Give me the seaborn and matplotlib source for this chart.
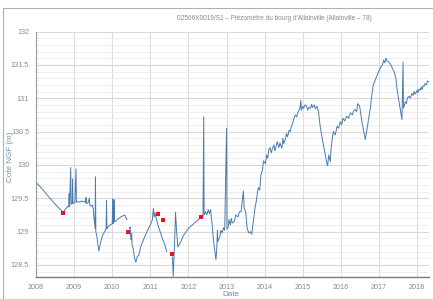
import numpy as np
import pandas as pd
import matplotlib
matplotlib.use("Agg")
import matplotlib.pyplot as plt
import seaborn as sns
from matplotlib.ticker import MultipleLocator, FixedLocator

title = "02566X0019/S1 – Piézomètre du bourg d'Allainville (Allainville – 78)"
ylabel = "Cote NGF (m)"
xlabel = "Date"
year_ticks = [2008, 2009, 2010, 2011, 2012, 2013, 2014, 2015, 2016, 2017, 2018]
level_ticks = [128.5, 129, 129.5, 130, 130.5, 131, 131.5, 132]

# segment 1 : 2008 -> mid 2010
seg1_t = [2008.00, 2008.10, 2008.25, 2008.40, 2008.55, 2008.72, 2008.76, 2008.80, 2008.83, 2008.86,
          2008.87, 2008.88, 2008.91, 2008.92, 2008.95, 2008.96, 2008.97, 2009.02, 2009.05, 2009.06,
          2009.10, 2009.15, 2009.20, 2009.25, 2009.30, 2009.31, 2009.32, 2009.36, 2009.40, 2009.41,
          2009.45, 2009.48, 2009.50, 2009.52, 2009.55, 2009.56, 2009.57, 2009.60, 2009.63, 2009.65,
          2009.68, 2009.72, 2009.76, 2009.80, 2009.84, 2009.85, 2009.86, 2009.90, 2009.95, 2010.00,
          2010.01, 2010.02, 2010.04, 2010.05, 2010.06, 2010.10, 2010.15, 2010.20, 2010.25, 2010.30,
          2010.33, 2010.36, 2010.39]
seg1_v = [129.74, 129.68, 129.58, 129.48, 129.38, 129.29, 129.33, 129.36, 129.38, 129.37,
          129.57, 129.38, 129.96, 129.41, 129.43, 129.79, 129.42, 129.44, 129.94, 129.44,
          129.45, 129.44, 129.46, 129.45, 129.44, 129.51, 129.42, 129.43, 129.50, 129.40,
          129.38, 129.40, 129.35, 129.22, 129.05, 129.82, 129.00, 128.92, 128.78, 128.71,
          128.80, 128.90, 128.96, 129.00, 129.05, 129.47, 129.04, 129.08, 129.10, 129.12,
          129.49, 129.12, 129.14, 129.48, 129.15, 129.16, 129.19, 129.21, 129.23, 129.24,
          129.25, 129.21, 129.18]

# segment 2 : mid 2010 -> mid 2011
seg2_t = [2010.45, 2010.47, 2010.49, 2010.51, 2010.52, 2010.55, 2010.58, 2010.62, 2010.65, 2010.70,
          2010.75, 2010.80, 2010.85, 2010.90, 2010.95, 2011.00, 2011.03, 2011.05, 2011.08, 2011.10,
          2011.12, 2011.20, 2011.30, 2011.38, 2011.43]
seg2_v = [129.05, 129.07, 128.88, 128.97, 128.80, 128.75, 128.62, 128.54, 128.62, 128.65,
          128.78, 128.85, 128.92, 128.98, 129.05, 129.10, 129.15, 129.17, 129.35, 129.22,
          129.28, 129.10, 128.92, 128.80, 128.70]

# segment 3 : 2011.6 -> 2018.3
seg3_t = [2011.58, 2011.60, 2011.64, 2011.66, 2011.69, 2011.72, 2011.75, 2011.80, 2011.85, 2011.90,
          2012.00, 2012.10, 2012.20, 2012.30, 2012.38, 2012.40, 2012.41, 2012.45, 2012.48, 2012.52,
          2012.55, 2012.58, 2012.60, 2012.63, 2012.66, 2012.69, 2012.72, 2012.74, 2012.76, 2012.77,
          2012.82, 2012.85, 2012.88, 2012.92, 2012.95, 2013.00, 2013.01, 2013.05, 2013.06, 2013.10,
          2013.12, 2013.15, 2013.20, 2013.24, 2013.30, 2013.34, 2013.38, 2013.44, 2013.46, 2013.50,
          2013.54, 2013.58, 2013.62, 2013.66, 2013.70, 2013.75, 2013.78, 2013.80, 2013.83, 2013.87,
          2013.90, 2013.94, 2013.97, 2014.02, 2014.05, 2014.08, 2014.10, 2014.14, 2014.17, 2014.20,
          2014.24, 2014.27, 2014.30, 2014.33, 2014.37, 2014.40, 2014.45, 2014.48, 2014.50, 2014.54,
          2014.57, 2014.60, 2014.64, 2014.67, 2014.70, 2014.73, 2014.77, 2014.80, 2014.84, 2014.88,
          2014.92, 2014.95, 2014.96, 2015.00, 2015.02, 2015.06, 2015.10, 2015.13, 2015.15, 2015.20,
          2015.23, 2015.25, 2015.30, 2015.33, 2015.37, 2015.41, 2015.45, 2015.52, 2015.58, 2015.62,
          2015.65, 2015.68, 2015.72, 2015.75, 2015.78, 2015.80, 2015.85, 2015.90, 2015.94, 2015.98,
          2016.02, 2016.05, 2016.10, 2016.15, 2016.20, 2016.25, 2016.30, 2016.34, 2016.37, 2016.41,
          2016.44, 2016.49, 2016.55, 2016.60, 2016.64, 2016.70, 2016.77, 2016.81, 2016.85, 2016.92,
          2016.98, 2017.05, 2017.09, 2017.12, 2017.15, 2017.18, 2017.21, 2017.24, 2017.29, 2017.35,
          2017.40, 2017.44, 2017.48, 2017.55, 2017.60, 2017.63, 2017.64, 2017.69, 2017.72, 2017.74,
          2017.78, 2017.82, 2017.86, 2017.89, 2017.92, 2017.95, 2018.00, 2018.02, 2018.05, 2018.08,
          2018.11, 2018.13, 2018.16, 2018.18, 2018.21, 2018.24, 2018.27, 2018.30]
seg3_v = [128.62, 128.33, 128.90, 129.29, 129.00, 128.77, 128.80, 128.85, 128.92, 128.97,
          129.05, 129.10, 129.15, 129.20, 129.23, 130.72, 129.25, 129.30, 129.25, 129.33,
          129.27, 129.33, 129.22, 129.05, 128.85, 128.72, 128.58, 128.72, 129.02, 128.85,
          128.92, 129.02, 128.98, 129.06, 129.02, 130.55, 129.04, 129.08, 129.18, 129.10,
          129.20, 129.13, 129.15, 129.25, 129.22, 129.30, 129.30, 129.61, 129.35, 129.30,
          129.05, 128.98, 129.00, 128.96, 129.15, 129.37, 129.46, 129.55, 129.66, 129.62,
          129.85, 129.92, 130.06, 130.02, 130.15, 130.10, 130.22, 130.26, 130.18, 130.24,
          130.30, 130.21, 130.28, 130.35, 130.26, 130.33, 130.25, 130.40, 130.32, 130.38,
          130.47, 130.42, 130.52, 130.50, 130.58, 130.62, 130.70, 130.75, 130.72, 130.80,
          130.84, 130.97, 130.82, 130.88, 130.85, 130.90, 130.88, 130.82, 130.86, 130.85,
          130.91, 130.86, 130.90, 130.84, 130.88, 130.80, 130.60, 130.36, 130.18, 130.05,
          129.99, 130.15, 130.05, 130.30, 130.42, 130.50, 130.45, 130.58, 130.55, 130.65,
          130.60, 130.70, 130.66, 130.73, 130.70, 130.78, 130.75, 130.82, 130.83, 130.80,
          130.92, 130.88, 130.65, 130.50, 130.38, 130.60, 130.85, 131.05, 131.20, 131.30,
          131.39, 131.47, 131.50, 131.57, 131.53, 131.60, 131.56, 131.55, 131.52, 131.45,
          131.39, 131.30, 131.10, 130.85, 130.68, 131.54, 130.85, 130.95, 130.92, 131.00,
          131.03, 131.00, 131.07, 131.04, 131.10, 131.06, 131.12, 131.08, 131.14, 131.12,
          131.17, 131.13, 131.19, 131.18, 131.22, 131.20, 131.26, 131.25]

# manual measurements (red squares)
manual_t = [2008.72, 2010.41, 2011.21, 2011.32, 2011.57, 2012.34]
manual_v = [129.28, 129.00, 129.27, 129.18, 128.66, 129.22]

df = pd.concat([
    pd.DataFrame({"date": seg1_t, "level": seg1_v, "seg": 1}),
    pd.DataFrame({"date": seg2_t, "level": seg2_v, "seg": 2}),
    pd.DataFrame({"date": seg3_t, "level": seg3_v, "seg": 3}),
], ignore_index=True)
dm = pd.DataFrame({"date": manual_t, "level": manual_v})

sns.set_theme(style="white")
plt.rcParams['font.family'] = ['Liberation Sans Narrow', 'Liberation Sans', 'DejaVu Sans']

fig = plt.figure(figsize=(4.33, 2.99), dpi=100)
ax = fig.add_axes([36/433, 1-277/299, (429-36)/433, (277-31.5)/299])

grey_txt = "#8a8a8a"
blue_lbl = "#6f8fb0"

sns.lineplot(data=df, x="date", y="level", units="seg", estimator=None,
             color="#4a7bab", linewidth=0.7, ax=ax, legend=False)
sns.scatterplot(data=dm, x="date", y="level", color="#e8141a", marker="s",
                s=12, linewidth=0, ax=ax, zorder=5, legend=False)

ax.set_xlim(2008, 2018.31)
ax.set_ylim(128.32, 132.0)
ax.xaxis.set_major_locator(FixedLocator(year_ticks))
ax.set_xticklabels([str(y) for y in year_ticks])
ax.yaxis.set_major_locator(FixedLocator(level_ticks))
ax.set_yticklabels([f"{v:g}" for v in level_ticks])
ax.yaxis.set_minor_locator(MultipleLocator(0.1))

ax.grid(which="major", axis="x", color="#dcdcdc", linewidth=0.8)
ax.grid(which="major", axis="y", color="#d9d9d9", linewidth=0.8)
ax.grid(which="minor", axis="y", color="#ebebeb", linewidth=0.6)
ax.set_axisbelow(True)

for s in ["top", "right"]:
    ax.spines[s].set_visible(False)
ax.spines["left"].set_color("#9a9a9a")
ax.spines["left"].set_linewidth(0.8)
ax.spines["bottom"].set_color("#7a7a7a")
ax.spines["bottom"].set_linewidth(1.0)

ax.tick_params(axis="both", which="major", labelsize=5.2, colors="#9a9a9a",
               labelcolor=grey_txt, length=3, width=0.6, pad=2)
ax.tick_params(axis="y", which="minor", length=0)

ax.set_xlabel(xlabel, fontsize=5.8, color=blue_lbl)
ax.set_ylabel(ylabel, fontsize=5.8, color=blue_lbl)
ax.xaxis.set_label_coords((231-36)/393, (277-294)/245.5)
ax.yaxis.set_label_coords((10-36)/393, 0.49)
ax.xaxis.label.set_va("center")
ax.yaxis.label.set_va("center")

fig.text(274/433, 1-18/299, title, ha="center", va="center", fontsize=4.7, color=grey_txt)

# card border
fig.add_artist(plt.Line2D([3/433, 1], [1-8/299, 1-8/299], transform=fig.transFigure,
                          color="#b0b0b0", linewidth=0.8))
fig.add_artist(plt.Line2D([3/433, 3/433], [0, 1-8/299], transform=fig.transFigure,
                          color="#b0b0b0", linewidth=0.8))

fig.savefig("out.png", dpi=100)
